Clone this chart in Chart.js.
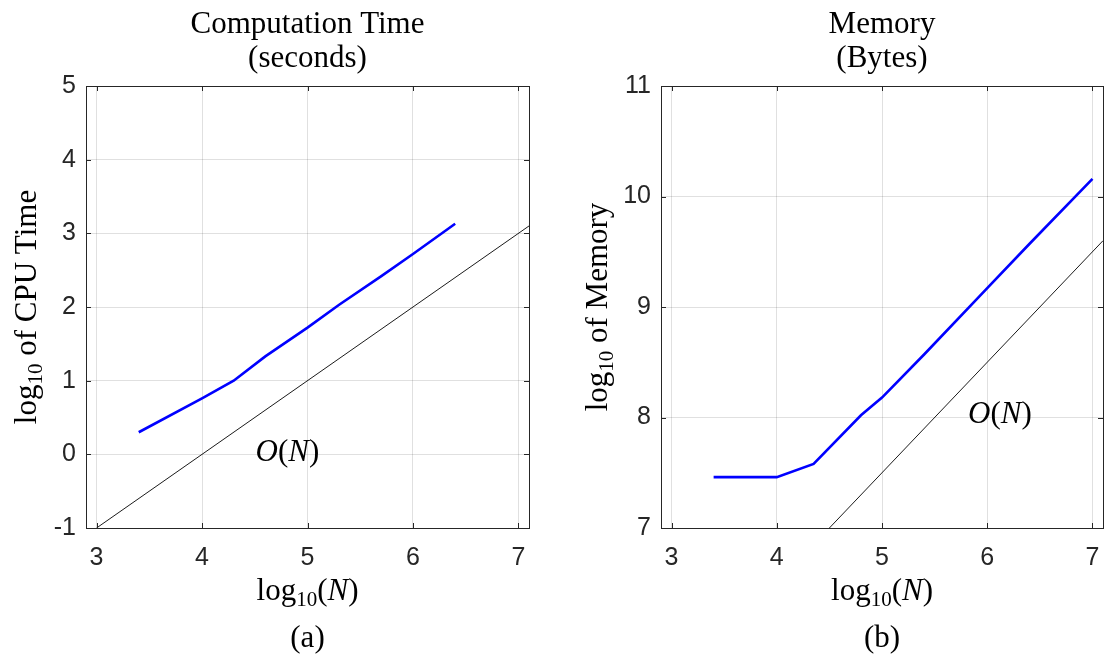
<!DOCTYPE html>
<html>
<head>
<meta charset="utf-8">
<script src="https://cdn.jsdelivr.net/npm/chart.js@4"></script>
<style>
  html, body { margin: 0; padding: 0; background: #ffffff; }
  #wrap { position: relative; width: 1105px; height: 662px; }
  #leftBox { position: absolute; left: 0; top: 0; }
  #rightBox { position: absolute; left: 560px; top: 0; }
</style>
</head>
<body>
<div id="wrap">
  <canvas id="leftBox" width="560" height="662"></canvas>
  <canvas id="rightBox" width="545" height="662"></canvas>
</div>
<script>
// (a) computation time, log10 of seconds vs log10(N)
const cpuLogN = [3.4, 4, 4.3, 4.6, 5, 5.3, 5.7, 6, 6.4];
const cpuLogT = [0.30, 0.76, 1.0, 1.33, 1.72, 2.03, 2.42, 2.72, 3.13];
// O(N) reference line for (a)
const cpuRefN = [3, 7.1];
const cpuRefT = [-1, 3.1];

// (b) memory, log10 of bytes vs log10(N)
const memLogN = [3.4, 4, 4.35, 4.8, 5, 5.4, 6, 6.4, 7];
const memLogB = [7.46, 7.46, 7.58, 8.02, 8.18, 8.57, 9.17, 9.57, 10.16];
const memRefN = [4.5, 7.1];
const memRefB = [7, 9.6];

// tick labels
const xTicks = [3, 4, 5, 6, 7];
const cpuTicks = [-1, 0, 1, 2, 3, 4, 5];
const memTicks = [7, 8, 9, 10, 11];

const SERIF = '"Liberation Serif", "Times New Roman", serif';
const fBig = '31px ' + SERIF;
const fSub = '21px ' + SERIF;
const fIt = 'italic 31px ' + SERIF;
const txtColor = '#262626';

function pts(xs, ys) {
    return xs.map((x, i) => ({ x: x, y: ys[i] }));
}

// draw a row of text pieces (mixed fonts) centred on x
function drawRuns(ctx, runs, x, y) {
    let w = 0;
    runs.forEach(r => { ctx.font = r.f; w += ctx.measureText(r.t).width; });
    let cx = x - w / 2;
    runs.forEach(r => {
        ctx.font = r.f;
        ctx.fillText(r.t, cx, y + (r.dy || 0));
        cx += ctx.measureText(r.t).width;
    });
}

// matlab-like box, inward ticks, titles and labels
const matlabLook = {
    id: 'matlabLook',
    afterDraw(chart, args, opts) {
        const ctx = chart.ctx;
        const a = chart.chartArea;
        const xs = chart.scales.x, ys = chart.scales.y;
        ctx.save();
        ctx.strokeStyle = txtColor;
        ctx.lineWidth = 1;
        ctx.beginPath();
        xs.ticks.forEach(t => {
            const px = Math.round(xs.getPixelForValue(t.value)) + 0.5;
            ctx.moveTo(px, a.bottom); ctx.lineTo(px, a.bottom - 5);
            ctx.moveTo(px, a.top); ctx.lineTo(px, a.top + 5);
        });
        ys.ticks.forEach(t => {
            const py = Math.round(ys.getPixelForValue(t.value)) + 0.5;
            ctx.moveTo(a.left, py); ctx.lineTo(a.left + 5, py);
            ctx.moveTo(a.right, py); ctx.lineTo(a.right - 5, py);
        });
        ctx.stroke();
        ctx.strokeRect(Math.round(a.left) + 0.5, Math.round(a.top) + 0.5,
            Math.round(a.right - a.left), Math.round(a.bottom - a.top));

        ctx.fillStyle = '#000000';
        ctx.textBaseline = 'alphabetic';
        ctx.textAlign = 'left';
        const cx = (a.left + a.right) / 2;
        const cy = (a.top + a.bottom) / 2;

        // two-line title
        drawRuns(ctx, [{ t: opts.title[0], f: fBig }], cx, 33);
        drawRuns(ctx, [{ t: opts.title[1], f: fBig }], cx, 67);

        // x axis label log10(N)
        drawRuns(ctx, [
            { t: 'log', f: fBig }, { t: '10', f: fSub, dy: 6 },
            { t: '(', f: fBig }, { t: 'N', f: fIt }, { t: ')', f: fBig }
        ], cx, 600);

        // caption
        drawRuns(ctx, [{ t: opts.caption, f: fBig }], cx, 647);

        // y axis label, rotated
        ctx.save();
        ctx.translate(opts.yTitleX, cy);
        ctx.rotate(-Math.PI / 2);
        drawRuns(ctx, [
            { t: 'log', f: fBig }, { t: '10', f: fSub, dy: 6 },
            { t: ' of ' + opts.yWord, f: fBig }
        ], 0, 0);
        ctx.restore();

        // O(N) note
        ctx.textBaseline = 'middle';
        drawRuns(ctx, [
            { t: 'O', f: fIt }, { t: '(', f: fBig }, { t: 'N', f: fIt }, { t: ')', f: fBig }
        ], xs.getPixelForValue(opts.note[0]), ys.getPixelForValue(opts.note[1]));
        ctx.restore();
    }
};

function makeConfig(curve, ref, yMin, yMax, yTickVals, yWidth, padRight, look) {
    return {
        type: 'scatter',
        data: {
            datasets: [
                {
                    data: curve,
                    showLine: true,
                    borderColor: '#0000ff',
                    borderWidth: 2.6,
                    pointRadius: 0,
                    tension: 0
                },
                {
                    data: ref,
                    showLine: true,
                    borderColor: '#000000',
                    borderWidth: 0.9,
                    pointRadius: 0
                }
            ]
        },
        options: {
            responsive: false,
            animation: false,
            layout: { padding: { top: 86, right: padRight, left: 0, bottom: 0 } },
            plugins: {
                legend: { display: false },
                tooltip: { enabled: false },
                matlabLook: look
            },
            scales: {
                x: {
                    type: 'linear',
                    min: 2.9,
                    max: 7.1,
                    afterBuildTicks: s => { s.ticks = xTicks.map(v => ({ value: v })); },
                    afterFit: s => { s.height = 134; s.paddingLeft = 0; s.paddingRight = 0; },
                    grid: { color: 'rgba(0,0,0,0.12)', drawTicks: false },
                    border: { display: false },
                    ticks: {
                        padding: 15,
                        color: txtColor,
                        font: { family: '"Liberation Sans", Arial, sans-serif', size: 25 }
                    }
                },
                y: {
                    type: 'linear',
                    min: yMin,
                    max: yMax,
                    afterBuildTicks: s => { s.ticks = yTickVals.map(v => ({ value: v })); },
                    afterFit: s => { s.width = yWidth; s.paddingTop = 0; s.paddingBottom = 0; },
                    grid: { color: 'rgba(0,0,0,0.12)', drawTicks: false },
                    border: { display: false },
                    ticks: {
                        padding: 10,
                        color: txtColor,
                        font: { family: '"Liberation Sans", Arial, sans-serif', size: 25 }
                    }
                }
            }
        },
        plugins: [matlabLook]
    };
}

new Chart(document.getElementById('leftBox'), makeConfig(
    pts(cpuLogN, cpuLogT), pts(cpuRefN, cpuRefT), -1, 5, cpuTicks, 86, 31,
    { title: ['Computation Time', '(seconds)'], caption: '(a)', yWord: 'CPU Time', yTitleX: 36, note: [4.81, 0.02] }
));

new Chart(document.getElementById('rightBox'), makeConfig(
    pts(memLogN, memLogB), pts(memRefN, memRefB), 7, 11, memTicks, 101, 2,
    { title: ['Memory', '(Bytes)'], caption: '(b)', yWord: 'Memory', yTitleX: 47, note: [6.12, 8.02] }
));
</script>
</body>
</html>
